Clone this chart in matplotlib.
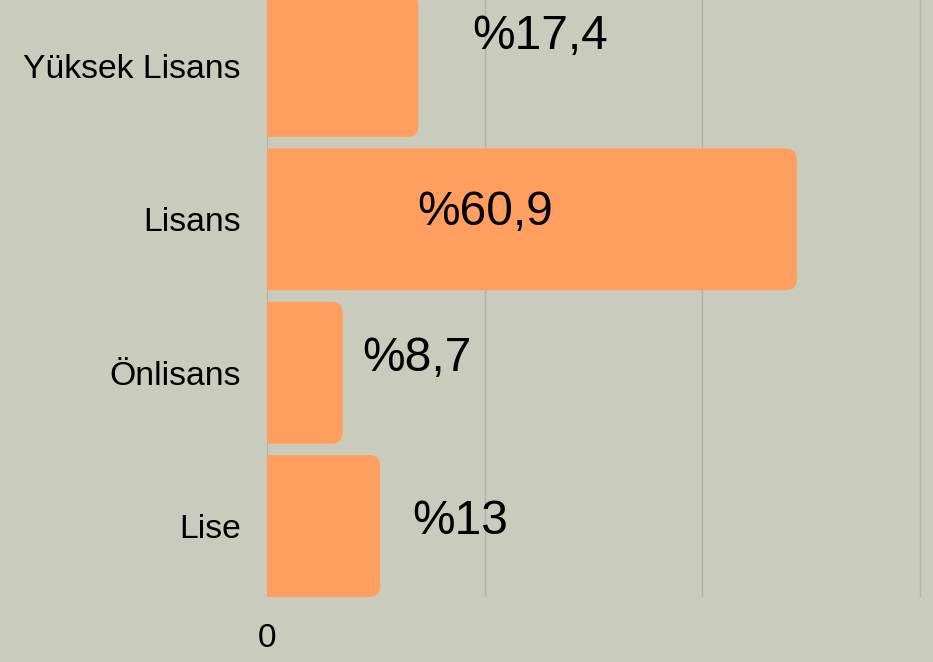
import matplotlib
matplotlib.use('Agg')
import matplotlib.pyplot as plt
from matplotlib.patches import FancyBboxPatch

plt.rcParams['font.family'] = ['Liberation Sans', 'DejaVu Sans']

# 資料
categories = ['Lise', 'Önlisans', 'Lisans', 'Yüksek Lisans']
values = [13, 8.7, 60.9, 17.4]
value_labels = ['%13', '%8,7', '%60,9', '%17,4']
label_x = [16.7, 10.9, 17.3, 23.6]       # 文字左邊位置 (資料單位)
label_dy = [0.031, 0.092, 0.046, 0.193]  # 文字垂直偏移

bg = '#C9CBBC'
bar_color = '#FF9E5E'

fig = plt.figure(figsize=(9.33, 6.62), dpi=100)
fig.patch.set_facecolor(bg)
ax = fig.add_axes([267 / 933, 65 / 662, 666 / 933, 597 / 662])
ax.set_facecolor(bg)

ypos = list(range(len(categories)))
bh = 0.925
bars = ax.barh(ypos, values, height=bh, color='none')

# 圓角長條
rx = 1.25
aspect = 0.07 / rx
for b in bars:
    x0, y0 = b.get_x(), b.get_y()
    w, h = b.get_width(), b.get_height()
    p = FancyBboxPatch((x0 - 3, y0), w + 3, h,
                       boxstyle='round,pad=0,rounding_size=%f' % rx,
                       mutation_aspect=aspect, facecolor=bar_color,
                       edgecolor='none', zorder=3)
    p.set_clip_path(ax.patch)
    ax.add_patch(p)

for y, lx, dy, t in zip(ypos, label_x, label_dy, value_labels):
    ax.text(lx, y + dy, t, fontsize=34.5, ha='left', va='center', color='black', zorder=4)

ax.set_xlim(0, 76.55)
ax.set_ylim(-0.4625, 3.43)
ax.set_xticks([0, 25, 50, 75])
ax.set_xticklabels(['0', '', '', ''], fontsize=24)
ax.set_yticks(ypos)
ax.set_yticklabels(categories, fontsize=24.3)
ax.tick_params(axis='both', length=0)
ax.tick_params(axis='y', pad=19)
ax.tick_params(axis='x', pad=18.5)
ax.grid(True, axis='x', color='#B2B5A6', linewidth=1, zorder=0)
ax.set_axisbelow(True)
for s in ax.spines.values():
    s.set_visible(False)

plt.savefig('out.png', dpi=100, facecolor=bg)
